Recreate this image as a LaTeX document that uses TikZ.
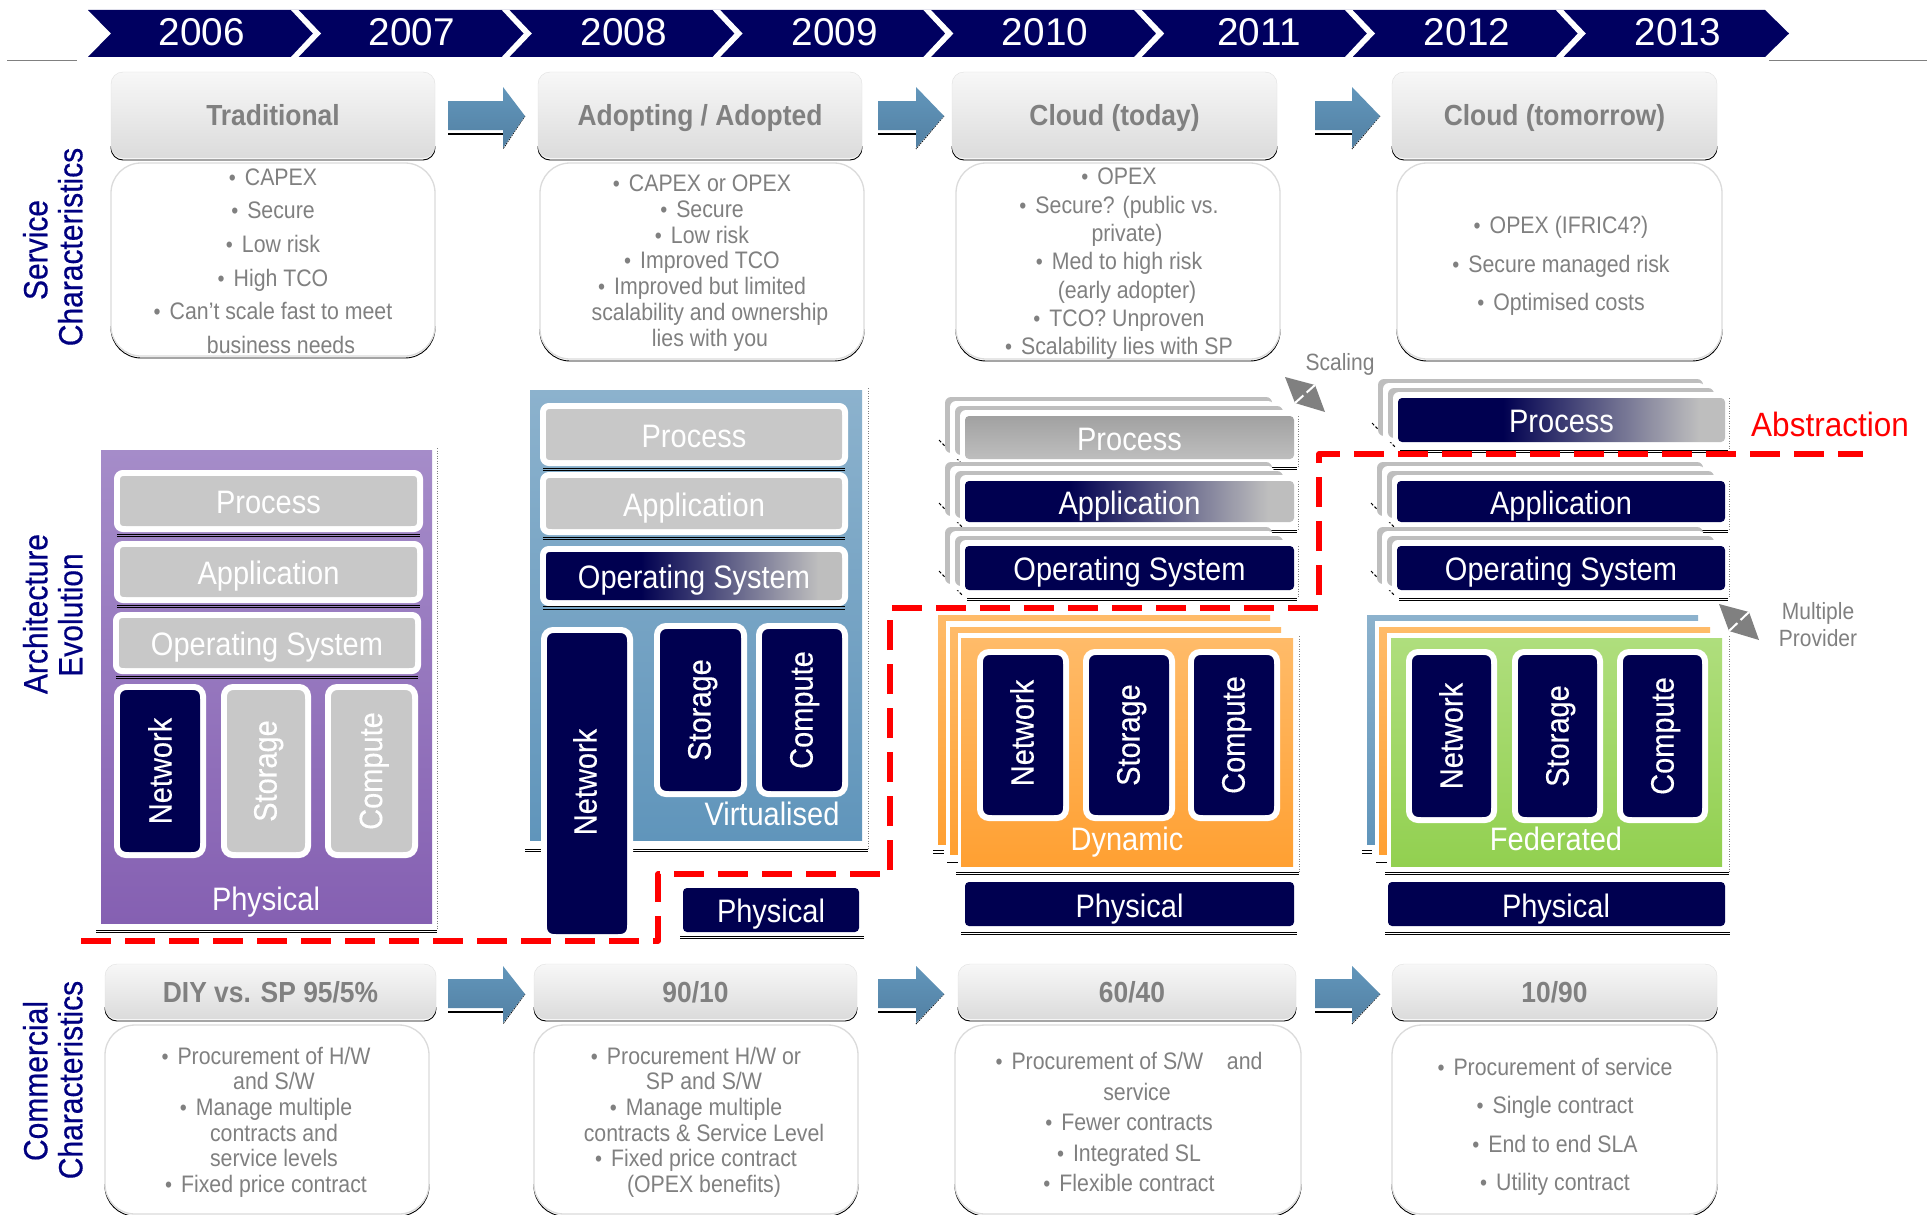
\documentclass[tikz,border=0pt]{standalone}
\usepackage{fontspec}
\setmainfont{Liberation Sans}
\newfontfamily\sidefont[FakeBold=0.5]{Liberation Sans}
\newfontfamily\vertfont[FakeBold=0.3]{Liberation Sans}
\definecolor{navy}{RGB}{0,0,80}
\definecolor{bandnavy}{RGB}{0,0,96}
\definecolor{labelnavy}{RGB}{0,0,128}
\definecolor{tgray}{RGB}{128,128,128}
\definecolor{boxgray}{RGB}{200,200,200}
\definecolor{layergray}{RGB}{190,190,190}
\definecolor{barrtop}{RGB}{98,150,187}
\definecolor{barrbot}{RGB}{82,128,163}
\definecolor{purpT}{RGB}{165,140,201}
\definecolor{purpB}{RGB}{133,96,178}
\definecolor{blueT}{RGB}{140,178,205}
\definecolor{blueB}{RGB}{96,149,187}
\definecolor{orgT}{RGB}{255,187,105}
\definecolor{orgB}{RGB}{255,160,50}
\definecolor{grnT}{RGB}{175,222,125}
\definecolor{grnB}{RGB}{146,208,80}
\pgfdeclarehorizontalshading{navytogray}{100bp}{color(0bp)=(navy); color(41bp)=(navy); color(71bp)=(layergray); color(100bp)=(layergray)}
\tikzset{
  lbl/.style={text=white,font=\fontsize{29}{32}\selectfont,transform shape,yscale=1.12,inner sep=0pt,text height=29.2pt,text depth=6pt},
  vlbl/.style={text=white,font=\vertfont\fontsize{29}{32}\selectfont,transform shape,rotate=90,yscale=1.12,inner sep=0pt,text height=22pt,text depth=3pt},
  side/.style={text=labelnavy,font=\sidefont\fontsize{30}{32}\selectfont,transform shape,rotate=90,yscale=1.12,inner sep=0pt,text height=22pt,text depth=0pt},
  year/.style={text=white,font=\fontsize{38.7}{40}\selectfont,inner sep=0pt,text height=28pt,text depth=0pt},
  head/.style={text=tgray,font=\bfseries\fontsize{26.4}{30}\selectfont,transform shape,yscale=1.1,inner sep=0pt,text height=25pt,text depth=5.5pt},
  bodytxt/.style={text=tgray,align=center,transform shape,yscale=1.12,inner sep=0pt},
  note/.style={text=tgray,font=\fontsize{21}{24}\selectfont,transform shape,yscale=1.12,inner sep=0pt},
  navyfill/.style={fill=navy},
  grayfill/.style={fill=boxgray},
  fadefill/.style={shading=navytogray},
  stackgray/.style={top color=layergray!85!black,bottom color=layergray},
  shadowline/.style={black,line width=.9pt},
  shadowdash/.style={black,line width=1pt,dash pattern=on 3pt off 2pt},
  abstraction/.style={red,line width=5.5pt,dash pattern=on 30pt off 14pt,line join=round}
}
\newcommand\bu{\llap{\fontsize{20}{20}\selectfont •\hspace{9pt}}}
% rounded box with black shadow below its bottom corners
\newcommand\softshadow[5]{%
  \begin{scope}
    \clip (#1-3,#4-#5) rectangle (#3+3,#4+5);
    \draw[shadowline,rounded corners=#5] (#1,#2) rectangle (#3,#4+2);
  \end{scope}}
\newcommand\headbox[6]{%
  \softshadow{#1}{#2}{#3}{#4}{12}
  \draw[draw=black!12,top color=black!3,bottom color=black!14,rounded corners=12] (#1,#2) rectangle (#3,#4);
  \node[head] (#5) at ({(#1+#3)/2},{(#2+#4)/2}) {#6};}
\newcommand\bodybox[4]{%
  \softshadow{#1}{#2}{#3}{#4}{30}
  \draw[draw=black!14,line width=1.3pt,fill=white,rounded corners=30] (#1,#2) rectangle (#3,#4);}
% white rim + filled box
\newcommand\rimbox[7]{%
  \draw[white,line width=6pt,rounded corners=#6,#5] (#1+3,#2+3) rectangle (#3-3,#4-3);
  \path[#5,rounded corners=#6] (#1+6,#2+6) rectangle (#3-6,#4-6);}
\newcommand\underlines[3]{%
  \draw[shadowline] (#1,#3) -- (#2,#3);
  \draw[shadowline] (#1,#3+2.5) -- (#2,#3+2.5);}
% stacked layer: x1 y1 x2 y2 style name text
\newcommand\stacked[7]{%
  \draw[shadowdash] (#1-26,#4-19) -- (#1-2,#4+6);
  \underlines{#1+2}{#3+3}{#4+8}
  \draw[dotted,line width=.5pt,black!50] (#3+4,#2) -- (#3+4,#4+8);
  \fill[layergray,rounded corners=6] (#1-20,#2-19) rectangle (#3-22,#4-6);
  \fill[white,rounded corners=6] (#1-15,#2-15) rectangle (#3-20,#4);
  \fill[layergray,rounded corners=6] (#1-10,#2-10) rectangle (#3-11,#4-4);
  \fill[white,rounded corners=6] (#1-5,#2-6) rectangle (#3,#4+4);
  \path[#5,rounded corners=4] (#1,#2) rectangle (#3,#4);
  \node[lbl] (#6) at ({(#1+#3)/2},{(#2+#4)/2}) {#7};}
\newcommand\blockarrow[8]{%
  \draw[shadowline,line width=1.2pt] (#1,#6+4) -- (#2,#6+4);
  \draw[black,line width=.8pt,dash pattern=on 1.5pt off 1pt] (#3,#8) -- (#2,#7+1);
  \path[top color=barrtop,bottom color=barrbot] (#1,#5) -- (#2,#5) -- (#2,#4) -- (#3,#8) -- (#2,#7) -- (#2,#6) -- (#1,#6) -- cycle;}
\newcommand\doublearrow[8]{%
  \fill[black!50] (#1,#2) -- (#3,#4) -- (#5,#6) -- (#7,#8) -- cycle;
  \draw[white,line width=2pt] (#3,#4) -- ({#3+.42*(#7-#3)},{#4+.42*(#8-#4)});
  \draw[white,line width=2pt] (#7,#8) -- ({#7+.42*(#3-#7)},{#8+.42*(#4-#8)});}
\newcommand\orangelayer[6]{%
  \path[top color=#5,bottom color=#6] (#1,#2) rectangle (#3,#4);
  \fill[white] (#1+8,#2+6) rectangle (#3+2,#4+2);}
\begin{document}
\begin{tikzpicture}[x=1pt,y=-1pt]
\useasboundingbox[fill=white] (0,0) rectangle (1930,1215);
% timeline
\draw[black!50,line width=1.5pt] (7,60.5) -- (77,60.5);
\draw[black!50,line width=1.5pt] (1769,60.5) -- (1927,60.5);
\fill[bandnavy] (88,10) -- (1765,10) -- (1789,33.5) -- (1765,57) -- (88,57) -- (111,33.5) -- cycle;
\foreach \k in {0,...,6}{
  \fill[white] ({291+210.8*\k},10) -- ({298.5+210.8*\k},10) -- ({321+210.8*\k},33.5) -- ({298.5+210.8*\k},57) -- ({291+210.8*\k},57) -- ({313+210.8*\k},33.5) -- cycle;
}
\node[year] (y06) at (202,32) {2006};
\node[year] (y07) at (412,32) {2007};
\node[year] (y08) at (624,32) {2008};
\node[year] (y09) at (835,32) {2009};
\node[year] (y10) at (1045,32) {2010};
\node[year] (y11) at (1259,32) {2011};
\node[year] (y12) at (1467,32) {2012};
\node[year] (y13) at (1678,32) {2013};
% side labels
\node[side] (s1a) at (35,250) {Service};
\node[side] (s1b) at (70,247) {Characteristics};
\node[side] (s2a) at (35,614) {Architecture};
\node[side] (s2b) at (70,615) {Evolution};
\node[side] (s3a) at (35,1081) {Commercial};
\node[side] (s3b) at (70,1080) {Characteristics};
% top row headers
\headbox{111}{72}{435}{158}{h1}{Traditional}
\headbox{538}{72}{862}{158}{h2}{Adopting / Adopted}
\headbox{952}{72}{1277}{158}{h3}{Cloud (today)}
\headbox{1392}{72}{1717}{158}{h4}{Cloud (tomorrow)}
% top row bodies
\bodybox{111}{163}{435}{356}
\node[bodytxt,font=\fontsize{21.3}{30}\selectfont] (b1) at (281,261) {\bu CAPEX\\\bu Secure\\\bu Low risk\\\bu High TCO\\\bu Can’t scale fast to meet\\business needs};
\bodybox{540}{163}{864}{359}
\node[bodytxt,font=\fontsize{21.3}{23}\selectfont] (b2) at (710,263) {\bu CAPEX or OPEX\\\bu Secure\\\bu Low risk\\\bu Improved TCO\\\bu Improved but limited\\scalability and ownership\\lies with you};
\bodybox{956}{163}{1280}{359}
\node[bodytxt,font=\fontsize{21.3}{25.3}\selectfont] (b3) at (1127,264) {\bu OPEX\\\bu Secure? (public vs.\\private)\\\bu Med to high risk\\(early adopter)\\\bu TCO? Unproven\\\bu Scalability lies with SP};
\bodybox{1397}{163}{1722}{359}
\node[bodytxt,font=\fontsize{21.3}{34.6}\selectfont] (b4) at (1569,266) {\bu OPEX (IFRIC4?)\\\bu Secure managed risk\\\bu Optimised costs};
% top arrows
\blockarrow{448}{503}{525}{87}{101}{130}{148}{116}
\blockarrow{878}{916}{944}{87}{101}{130}{148}{116}
\blockarrow{1315}{1352}{1380}{87}{101}{130}{148}{116}
% bottom row
\headbox{105}{964}{436}{1019}{h5}{DIY vs. SP 95/5\%}
\headbox{534}{964}{857}{1019}{h6}{90/10}
\headbox{958}{964}{1296}{1019}{h7}{\hspace{10pt}60/40}
\headbox{1392}{964}{1717}{1019}{h8}{10/90}
\bodybox{105}{1025}{429}{1214}
\node[bodytxt,font=\fontsize{21.3}{22.9}\selectfont] (b5) at (274,1122) {\bu Procurement of H/W\\and S/W\\\bu Manage multiple\\contracts and\\service levels\\\bu Fixed price contract};
\bodybox{534}{1025}{858}{1214}
\node[bodytxt,font=\fontsize{21.3}{22.9}\selectfont] (b6) at (704,1122) {\bu Procurement H/W or\\SP and S/W\\\bu Manage multiple\\contracts \& Service Level\\\bu Fixed price contract\\(OPEX benefits)};
\bodybox{955}{1025}{1301}{1214}
\node[bodytxt,font=\fontsize{21.3}{27.2}\selectfont] (b7) at (1137,1122) {\bu Procurement of S/W\ \ \ \ and\\service\\\bu Fewer contracts\\\bu Integrated SL\\\bu Flexible contract};
\bodybox{1392}{1025}{1717}{1214}
\node[bodytxt,font=\fontsize{21.3}{34.4}\selectfont] (b8) at (1563,1127) {\bu Procurement of service\\\bu Single contract\\\bu End to end SLA\\\bu Utility contract};
\blockarrow{448}{503}{525}{966}{979}{1008}{1023}{994}
\blockarrow{878}{916}{944}{966}{979}{1008}{1023}{994}
\blockarrow{1315}{1352}{1380}{966}{979}{1008}{1023}{994}
% --- column 1: physical panel
\underlines{96}{437}{930}
\draw[dotted,line width=.5pt,black!50] (437,448) -- (437,930);
\path[top color=purpT,bottom color=purpB] (101,450) rectangle (432,923);
\rimbox{114}{470}{423}{532}{grayfill}{6}{}
\underlines{117}{420}{534}
\node[lbl] (p1) at (268.5,501) {Process};
\rimbox{114}{541}{423}{603}{grayfill}{6}{}
\underlines{117}{420}{605}
\node[lbl] (a1) at (268.5,572) {Application};
\rimbox{113}{612}{421}{674}{grayfill}{6}{}
\underlines{116}{418}{676}
\node[lbl] (o1) at (267,643) {Operating System};
\rimbox{114}{684}{206}{858}{navyfill}{9}{}
\node[vlbl] (n1) at (161,771) {Network};
\rimbox{221}{684}{311}{858}{grayfill}{9}{}
\node[vlbl] (s1) at (266,771) {Storage};
\rimbox{325}{684}{418}{858}{grayfill}{9}{}
\node[vlbl] (c1) at (371.5,771) {Compute};
\node[lbl] (ph1) at (266,897) {Physical};
% --- column 2: virtualised panel
\underlines{525}{868}{849}
\draw[dotted,line width=.5pt,black!50] (868,388) -- (868,849);
\path[top color=blueT,bottom color=blueB] (530,390) rectangle (862,840);
\rimbox{540}{403}{848}{466}{grayfill}{6}{}
\underlines{543}{845}{468}
\node[lbl] (p2) at (694,434.5) {Process};
\rimbox{540}{472}{848}{535}{grayfill}{6}{}
\underlines{543}{845}{537}
\node[lbl] (a2) at (694,503.5) {Application};
\rimbox{540}{546}{848}{606}{fadefill}{6}{}
\underlines{543}{845}{606.5}
\node[lbl] (o2) at (694,576) {Operating System};
\rimbox{541}{627}{633}{940}{navyfill}{9}{}
\node[vlbl] (n2) at (586,782) {Network};
\rimbox{654}{623}{747}{797}{navyfill}{9}{}
\node[vlbl] (s2) at (700,710) {Storage};
\rimbox{756}{623}{848}{797}{navyfill}{9}{}
\node[vlbl] (c2) at (802,710) {Compute};
\node[lbl] (v2) at (772,812) {Virtualised};
\fill[navy,rounded corners=4] (683,888) rectangle (859,932);
\underlines{680}{864}{936}
\node[lbl] (ph2) at (771,909) {Physical};
% --- column 3: stacks
\stacked{965}{416}{1294}{459}{stackgray}{p3}{Process}
\stacked{965}{481}{1294}{522}{fadefill}{a3}{Application}
\stacked{965}{546}{1294}{590}{navyfill}{o3}{Operating System}
\draw[shadowline] (933,850) -- (944,850);
\draw[shadowline] (933,853) -- (944,853);
\draw[shadowline] (947,862) -- (958,862);
\orangelayer{938}{615}{1270}{844}{orgT}{orgB}
\orangelayer{950}{627}{1281}{854}{orgT}{orgB}
\underlines{956}{1299}{872}
\draw[dotted,line width=.5pt,black!50] (1299,636) -- (1299,872);
\path[top color=orgT,bottom color=orgB] (961,638) rectangle (1293,866);
\rimbox{977}{649}{1069}{821}{navyfill}{9}{}
\node[vlbl] (n3) at (1023,733) {Network};
\rimbox{1083}{649}{1175}{821}{navyfill}{9}{}
\node[vlbl] (s3) at (1129,735) {Storage};
\rimbox{1188}{649}{1280}{821}{navyfill}{9}{}
\node[vlbl] (c3) at (1234,735) {Compute};
\node[lbl] (d3) at (1127,837.5) {Dynamic};
\fill[navy,rounded corners=4] (965,882) rectangle (1294,926);
\underlines{961}{1297}{932}
\node[lbl] (ph3) at (1129.5,904) {Physical};
% --- column 4: stacks
\stacked{1398}{398}{1725}{442}{fadefill}{p4}{Process}
\stacked{1397}{481}{1725}{522}{navyfill}{a4}{Application}
\stacked{1397}{546}{1725}{590}{navyfill}{o4}{Operating System}
\draw[shadowline] (1362,850) -- (1372,850);
\draw[shadowline] (1362,853) -- (1372,853);
\draw[shadowline] (1376,862) -- (1387,862);
\orangelayer{1367}{615}{1698}{844}{blueT}{blueB}
\orangelayer{1379}{627}{1710}{854}{orgT}{orgB}
\underlines{1385}{1729}{872}
\draw[dotted,line width=.5pt,black!50] (1729,636) -- (1729,872);
\path[top color=grnT,bottom color=grnB] (1391,638) rectangle (1722,866);
\rimbox{1406}{649}{1497}{823}{navyfill}{9}{}
\node[vlbl] (n4) at (1452,736) {Network};
\rimbox{1512}{649}{1603}{823}{navyfill}{9}{}
\node[vlbl] (s4) at (1558,736) {Storage};
\rimbox{1617}{649}{1708}{823}{navyfill}{9}{}
\node[vlbl] (c4) at (1663,736) {Compute};
\node[lbl] (f4) at (1556,837.5) {Federated};
\fill[navy,rounded corners=4] (1388,882) rectangle (1725,926);
\underlines{1385}{1730}{932}
\node[lbl] (ph4) at (1556,904) {Physical};
% annotations
\node[note] (scal) at (1340,364) {Scaling};
\doublearrow{1285}{377}{1315}{385}{1325}{412}{1295}{403}
\doublearrow{1719}{604}{1749}{612}{1759}{640}{1729}{631}
\node[note] (mp1) at (1818,613) {Multiple};
\node[note] (mp2) at (1818,638) {Provider};
\node[text=red,font=\fontsize{31.5}{34}\selectfont,transform shape,yscale=1.07,inner sep=0pt] (abs) at (1830,424) {Abstraction};
% abstraction boundary
\draw[abstraction] (81,941) -- (658,941) -- (658,874) -- (890,874) -- (890,608) -- (1319,608) -- (1319,454) -- (1863,454);
\end{tikzpicture}
\end{document}
